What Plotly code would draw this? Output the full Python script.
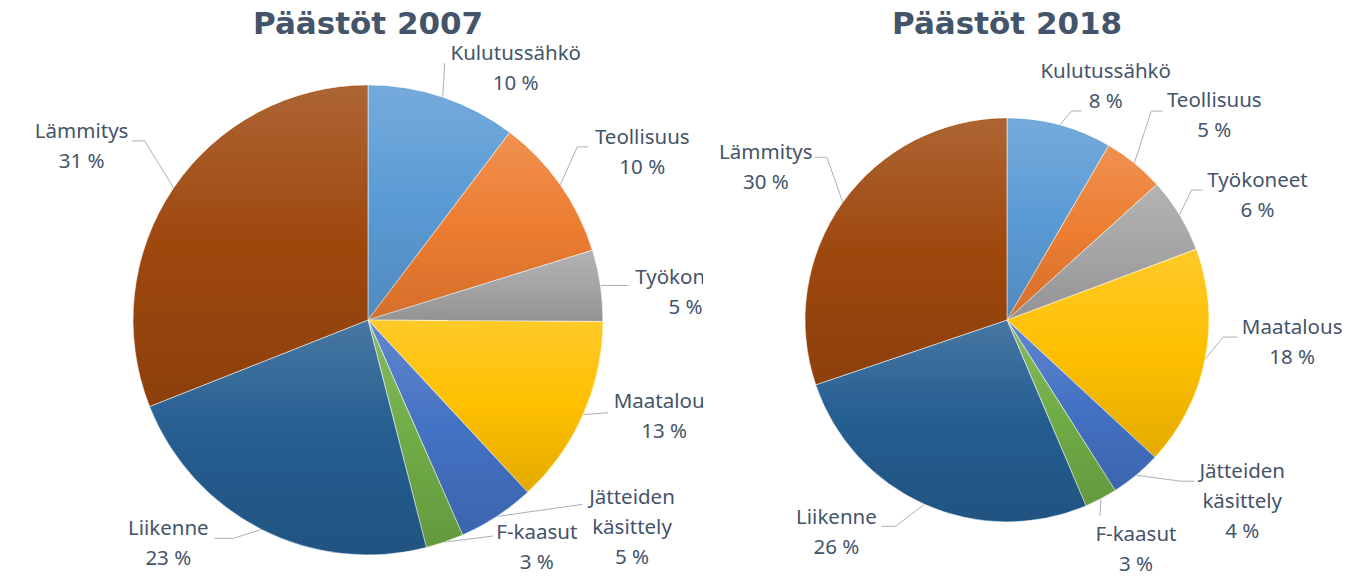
import math
import zlib
import struct
import base64
import bisect
import plotly.graph_objects as go

# ---------------- data ----------------
categories = ["Kulutussähkö", "Teollisuus", "Työkoneet", "Maatalous",
              "Jätteiden käsittely", "F-kaasut", "Liikenne", "Lämmitys"]
values_2007 = [10.3, 9.9, 4.9, 13.0, 5.3, 2.6, 23.0, 31.0]
values_2018 = [8.4, 4.9, 6.0, 17.6, 4.1, 2.6, 26.2, 30.2]
titles = ["Päästöt 2007", "Päästöt 2018"]

# ---------------- style / layout ----------------
W, H = 1363, 582
colors = ["#5b9bd5", "#ed7d31", "#a5a5a5", "#ffc000",
          "#4472c4", "#70ad47", "#255e91", "#9e480e"]
text_color = "#44546a"
line_color = "#a9b1be"
label_font = "Noto Sans"
label_size = 20.5
line_gap = 30

charts = [
    dict(cx=368, cy=320, r=235, xr=(0, 703)),
    dict(cx=1007, cy=320, r=202, xr=(703, W)),
]

# label placement relative to the slice edge point: (elbow, end, text)
label_offsets = [
    [((2, -34), (2, -34), (73, -42)),
     ((17, -38), (28, -38), (82, -46)),
     ((28, 0), (28, 0), (85, -7)),
     ((25, -2), (25, -2), (81, -12)),
     ((75, -11), (85, -12), (135, -18)),
     ((38, -5), (48, -6), (92, -8)),
     ((-28, 9), (-47, 9), (-93, 0)),
     ((-29, -47), (-42, -47), (-92, -55))],
    [((12, -14), (22, -14), (46, -52)),
     ((17, -52), (28, -52), (80, -61)),
     ((12, -25), (23, -25), (78, -33)),
     ((18, -22), (32, -22), (87, -30)),
     ((45, 6), (58, 6), (106, -2)),
     ((-1, 17), (-1, 17), (35, 37)),
     ((-29, 22), (-43, 22), (-88, 15)),
     ((-16, -45), (-28, -45), (-77, -48))],
]


def png_data_uri(w, h, rows):
    raw = b"".join(b"\x00" + bytes(row) for row in rows)

    def chunk(tag, data):
        c = struct.pack(">I", len(data)) + tag + data
        return c + struct.pack(">I", zlib.crc32(tag + data) & 0xFFFFFFFF)

    png = (b"\x89PNG\r\n\x1a\n"
           + chunk(b"IHDR", struct.pack(">IIBBBBB", w, h, 8, 6, 0, 0, 0))
           + chunk(b"IDAT", zlib.compress(raw, 9))
           + chunk(b"IEND", b""))
    return "data:image/png;base64," + base64.b64encode(png).decode()


def gradient_overlay(vals, r):
    """Per-slice light-to-dark vertical shading, like the Office gradient fill."""
    total = sum(vals)
    bounds = []
    acc = 0.0
    for v in vals:
        a0 = acc / total * 2 * math.pi
        acc += v
        a1 = acc / total * 2 * math.pi
        ys = [0.0]
        n = 60
        for k in range(n + 1):
            a = a0 + (a1 - a0) * k / n
            ys.append(-r * math.cos(a))
        bounds.append((min(ys), max(ys)))
    cum = []
    acc = 0.0
    for v in vals:
        acc += v
        cum.append(acc / total)
    size = 2 * r
    rows = []
    for j in range(size):
        row = bytearray(size * 4)
        dy = j + 0.5 - r
        for i in range(size):
            dx = i + 0.5 - r
            d = math.hypot(dx, dy)
            cov = (r - 1.0) - d + 0.5
            if cov <= 0:
                continue
            cov = min(cov, 1.0)
            ang = math.atan2(dx, -dy)
            if ang < 0:
                ang += 2 * math.pi
            s = min(bisect.bisect_right(cum, ang / (2 * math.pi)), len(vals) - 1)
            y0, y1 = bounds[s]
            t = (dy - y0) / max(y1 - y0, 1e-6)
            t = min(max(t, 0.0), 1.0)
            if t < 0.5:
                c, a = 255, 0.16 * (1 - t / 0.5)
            else:
                c, a = 0, 0.11 * (t - 0.5) / 0.5
            k = i * 4
            row[k] = c
            row[k + 1] = c
            row[k + 2] = c
            row[k + 3] = int(round(255 * a * cov))
        rows.append(row)
    return png_data_uri(size, size, rows)


fig = go.Figure()
series = [values_2007, values_2018]
images = []

for ci, (vals, ch) in enumerate(zip(series, charts)):
    cx, cy, r = ch["cx"], ch["cy"], ch["r"]
    xa = "x" if ci == 0 else "x2"
    ya = "y" if ci == 0 else "y2"
    total = sum(vals)

    cum = 0.0
    for i, (name, v) in enumerate(zip(categories, vals)):
        mid = (cum + v / 2) / total * 2 * math.pi
        cum += v
        px = cx + r * math.sin(mid)
        py = cy - r * math.cos(mid)
        (ex, ey), (ax_, ay_), (tx, ty) = label_offsets[ci][i]
        fig.add_trace(go.Scatter(
            x=[px, px + ex, px + ax_], y=[py, py + ey, py + ay_],
            mode="lines", line=dict(color=line_color, width=1),
            hoverinfo="skip", xaxis=xa, yaxis=ya))
        lines = name.split(" ") + [f"{round(v / total * 100)} %"]
        fig.add_trace(go.Scatter(
            x=[px + tx] * len(lines),
            y=[py + ty + k * line_gap for k in range(len(lines))],
            text=lines, mode="text", textposition="middle center",
            textfont=dict(family=label_font, size=label_size, color=text_color),
            cliponaxis=True, hoverinfo="skip", xaxis=xa, yaxis=ya))

    fig.add_trace(go.Pie(
        labels=categories, values=vals, sort=False, direction="clockwise",
        rotation=0, textinfo="none", hoverinfo="label+percent",
        marker=dict(colors=colors, line=dict(color="rgba(255,255,255,0.55)", width=1)),
        domain=dict(x=[(cx - r) / W, (cx + r) / W],
                    y=[1 - (cy + r) / H, 1 - (cy - r) / H]),
        showlegend=False))

    images.append(dict(
        source=gradient_overlay(vals, r), xref="paper", yref="paper",
        x=(cx - r) / W, y=1 - (cy - r) / H, sizex=2 * r / W, sizey=2 * r / H,
        xanchor="left", yanchor="top", sizing="stretch", layer="above"))

    fig.add_annotation(
        text=f"<b>{titles[ci]}</b>", xref="paper", yref="paper",
        x=cx / W, y=1 - 23 / H, xanchor="center", yanchor="middle",
        showarrow=False,
        font=dict(family="DejaVu Sans", size=31, color=text_color))

axis_common = dict(visible=False, fixedrange=True, showgrid=False, zeroline=False)
fig.update_layout(
    width=W, height=H,
    margin=dict(l=0, r=0, t=0, b=0),
    paper_bgcolor="white", plot_bgcolor="white",
    showlegend=False,
    images=images,
    xaxis=dict(domain=[0, charts[0]["xr"][1] / W], range=list(charts[0]["xr"]),
               anchor="y", **axis_common),
    yaxis=dict(domain=[0, 1], range=[H, 0], anchor="x", **axis_common),
    xaxis2=dict(domain=[charts[1]["xr"][0] / W, 1], range=list(charts[1]["xr"]),
                anchor="y2", **axis_common),
    yaxis2=dict(domain=[0, 1], range=[H, 0], anchor="x2", **axis_common),
)

fig.write_html("out.html",
               config={"displayModeBar": False},
               post_script="document.body.style.margin='0px';"
                           "document.body.style.overflow='hidden';")
